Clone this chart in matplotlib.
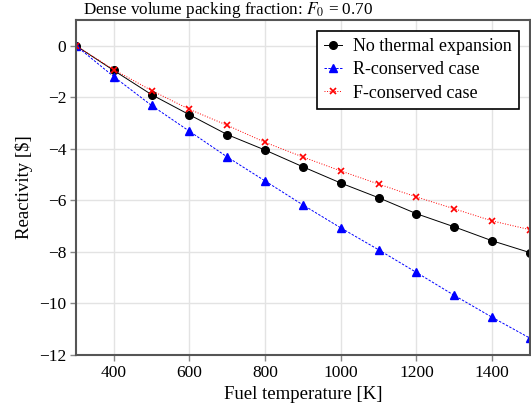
import numpy as np
import matplotlib
matplotlib.use('Agg')
import matplotlib.pyplot as plt

plt.rcParams['font.family'] = ['Liberation Serif', 'DejaVu Serif']
plt.rcParams['mathtext.fontset'] = 'stix'

# fuel temperature [K]
temps = [300, 400, 500, 600, 700, 800, 900, 1000, 1100, 1200, 1300, 1400, 1500]

# reactivity [$]
no_expansion = [0.0, -0.96, -1.90, -2.68, -3.45, -4.05, -4.70, -5.33, -5.90, -6.52, -7.03, -7.57, -8.03]
r_conserved = [0.0, -1.20, -2.32, -3.32, -4.32, -5.25, -6.18, -7.07, -7.92, -8.80, -9.69, -10.54, -11.35]
f_conserved = [0.0, -0.93, -1.74, -2.47, -3.09, -3.75, -4.32, -4.86, -5.37, -5.87, -6.33, -6.80, -7.14]

xticks = [400, 600, 800, 1000, 1200, 1400]
yticks = [0, -2, -4, -6, -8, -10, -12]

fig = plt.figure(figsize=(5.31, 4.07), dpi=100)
ax = fig.add_axes([0.143, 0.128, 0.855, 0.823])

ax.plot(temps, no_expansion, color='black', lw=0.7, ls='-', marker='o', ms=5.5,
        label='No thermal expansion')
ax.plot(temps, r_conserved, color='blue', lw=0.7, ls=(0, (2.5, 1.5)), marker='^', ms=6,
        label='R-conserved case')
ax.plot(temps, f_conserved, color='red', lw=0.7, ls=':', marker='x', ms=5, mew=1.2,
        label='F-conserved case')

ax.set_xlim(300, 1500)
ax.set_ylim(-12, 1)
ax.set_xticks(xticks)
ax.set_yticks(yticks)
ax.grid(True, color='#e3e3e3', lw=1.0)
ax.set_axisbelow(True)

for sp in ax.spines.values():
    sp.set_color('#555555')
    sp.set_linewidth(1.5)
ax.tick_params(axis='both', direction='out', length=4, width=1.0, color='#888888',
               labelsize=12.5, pad=3)

ax.set_xlabel('Fuel temperature [K]', fontsize=13.5)
ax.set_ylabel('Reactivity [\\$]', fontsize=13.5)
ax.text(0.015, 1.0, 'Dense volume packing fraction: $F_0$ = 0.70',
        transform=ax.transAxes, ha='left', va='bottom', fontsize=12.3)

leg = ax.legend(loc='upper right', fontsize=13, fancybox=False, framealpha=1,
                edgecolor='black', handlelength=1.0, handletextpad=0.6,
                borderaxespad=0.6, labelspacing=0.35)
leg.get_frame().set_linewidth(1.2)

fig.savefig('out.png', dpi=100)
